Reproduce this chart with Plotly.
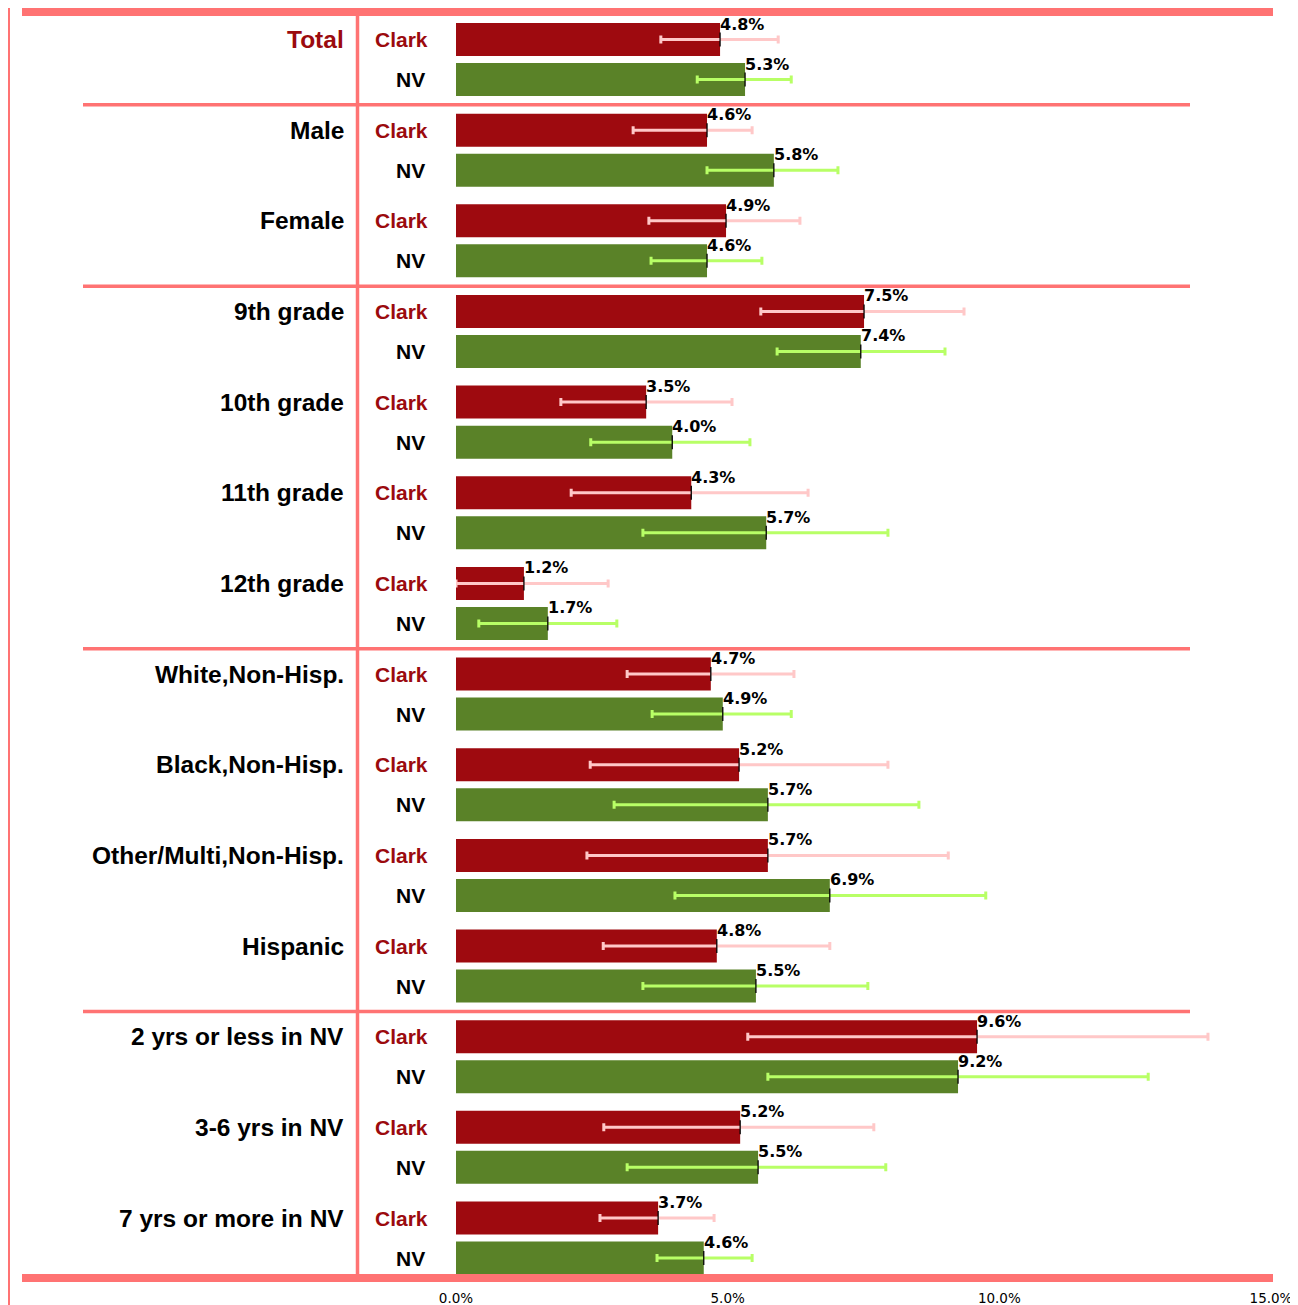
import plotly.graph_objects as go

# ---------------- data ----------------
groups = ["Total", "Male", "Female", "9th grade", "10th grade", "11th grade", "12th grade",
          "White,Non-Hisp.", "Black,Non-Hisp.", "Other/Multi,Non-Hisp.", "Hispanic",
          "2 yrs or less in NV", "3-6 yrs in NV", "7 yrs or more in NV"]

clark_vals = [4.86, 4.62, 4.97, 7.51, 3.50, 4.33, 1.25, 4.69, 5.21, 5.74, 4.80, 9.59, 5.23, 3.72]
clark_lo   = [3.77, 3.26, 3.55, 5.61, 1.93, 2.12, 0.00, 3.15, 2.47, 2.41, 2.71, 5.37, 2.72, 2.65]
clark_hi   = [5.93, 5.45, 6.33, 9.35, 5.08, 6.48, 2.80, 6.22, 7.95, 9.06, 6.88, 13.84, 7.69, 4.75]
clark_txt  = ["4.8%", "4.6%", "4.9%", "7.5%", "3.5%", "4.3%", "1.2%", "4.7%", "5.2%", "5.7%",
              "4.8%", "9.6%", "5.2%", "3.7%"]

nv_vals = [5.32, 5.85, 4.62, 7.45, 3.98, 5.71, 1.69, 4.91, 5.74, 6.88, 5.52, 9.24, 5.56, 4.56]
nv_lo   = [4.44, 4.62, 3.59, 5.91, 2.48, 3.44, 0.42, 3.61, 2.91, 4.03, 3.44, 5.74, 3.15, 3.70]
nv_hi   = [6.17, 7.03, 5.63, 9.00, 5.41, 7.95, 2.96, 6.17, 8.52, 9.75, 7.58, 12.74, 7.91, 5.45]
nv_txt  = ["5.3%", "5.8%", "4.6%", "7.4%", "4.0%", "5.7%", "1.7%", "4.9%", "5.7%", "6.9%",
           "5.5%", "9.2%", "5.5%", "4.6%"]

section_breaks = [0.5, 2.5, 6.5, 10.5]   # between groups
tick_vals = [0, 5, 10, 15]
tick_text = ["0.0%", "5.0%", "10.0%", "15.0%"]

# ---------------- styling ----------------
W, H = 1298, 1305
PAGE_OFF = 8                      # default body margin of the page
PLOT_L, PLOT_R, PLOT_T, PLOT_B = 456, 1271, 12, 1278   # page pixels of the plot area
ML = PLOT_L - PAGE_OFF
MT = PLOT_T - PAGE_OFF
MR = W - (PLOT_R - PAGE_OFF)
MB = H - (PLOT_B - PAGE_OFF)
PW = PLOT_R - PLOT_L
PH = PLOT_B - PLOT_T
RED = "#9E0A0F"
GREEN = "#5A8228"
PINK = "#FFC8C8"
LGREEN = "#B8FF66"
LINE = "#FF7373"
LABEL_RED = "#9B0A0E"
OFF = 0.2207
BARW = 0.364


def px_x(p):
    return (p - PLOT_L) / PW


def px_y(p):
    return (PLOT_B - p) / PH


n = len(groups)
y_clark = [i - OFF for i in range(n)]
y_nv = [i + OFF for i in range(n)]

fig = go.Figure()
fig.add_trace(go.Bar(x=clark_vals, y=y_clark, orientation="h", width=BARW,
                     marker=dict(color=RED, line=dict(width=0)), showlegend=False,
                     hoverinfo="skip"))
fig.add_trace(go.Bar(x=nv_vals, y=y_nv, orientation="h", width=BARW,
                     marker=dict(color=GREEN, line=dict(width=0)), showlegend=False,
                     hoverinfo="skip"))

for vals, lo, hi, ys, col in [(clark_vals, clark_lo, clark_hi, y_clark, PINK),
                               (nv_vals, nv_lo, nv_hi, y_nv, LGREEN)]:
    fig.add_trace(go.Scatter(
        x=vals, y=ys, mode="markers", showlegend=False, hoverinfo="skip",
        marker=dict(symbol="line-ns", size=10, line=dict(color="black", width=1.3)),
        error_x=dict(type="data", symmetric=False,
                     array=[h - v for h, v in zip(hi, vals)],
                     arrayminus=[v - l for v, l in zip(vals, lo)],
                     color=col, thickness=3, width=4)))

annotations = []
for i in range(n):
    for v, yy, t in [(clark_vals[i], y_clark[i], clark_txt[i]), (nv_vals[i], y_nv[i], nv_txt[i])]:
        annotations.append(dict(x=v, y=yy, xref="x", yref="y", text=t, showarrow=False,
                                xanchor="left", yanchor="bottom", xshift=-2, yshift=4,
                                font=dict(family="DejaVu Sans", size=16, color="black",
                                          weight="bold")))
    annotations.append(dict(x=px_x(346), y=y_clark[i], xref="paper", yref="y", text=groups[i],
                            showarrow=False, xanchor="right", yanchor="middle",
                            font=dict(family="Liberation Sans", size=24.5,
                                      color=LABEL_RED if i == 0 else "black", weight="bold")))
    annotations.append(dict(x=px_x(430), y=y_clark[i], xref="paper", yref="y", text="Clark",
                            showarrow=False, xanchor="right", yanchor="middle",
                            font=dict(family="Liberation Sans", size=21, color=LABEL_RED,
                                      weight="bold")))
    annotations.append(dict(x=px_x(427), y=y_nv[i], xref="paper", yref="y", text="NV",
                            showarrow=False, xanchor="right", yanchor="middle",
                            font=dict(family="Liberation Sans", size=21, color="black",
                                      weight="bold")))

shapes = []
# outer left vertical line (at the very left edge of the figure)
shapes.append(dict(type="line", xref="paper", yref="paper", x0=px_x(9), x1=px_x(9),
                   y0=px_y(0), y1=px_y(H + PAGE_OFF), line=dict(color=LINE, width=2)))
# top & bottom thick lines
for p in (PLOT_T, PLOT_B):
    shapes.append(dict(type="line", xref="paper", yref="paper", x0=px_x(22), x1=px_x(1273),
                       y0=px_y(p), y1=px_y(p), line=dict(color=LINE, width=8)))
# section separators
for b in section_breaks:
    shapes.append(dict(type="line", xref="paper", yref="y", x0=px_x(83), x1=px_x(1190),
                       y0=b, y1=b, line=dict(color=LINE, width=3.5)))
# inner vertical divider
shapes.append(dict(type="line", xref="paper", yref="paper", x0=px_x(357.5), x1=px_x(357.5),
                   y0=px_y(PLOT_T), y1=px_y(PLOT_B), line=dict(color=LINE, width=3.5)))

fig.update_layout(
    width=W, height=H,
    margin=dict(l=ML, r=MR, t=MT, b=MB),
    paper_bgcolor="white", plot_bgcolor="white",
    barmode="overlay",
    xaxis=dict(range=[0, 15], tickvals=tick_vals, ticktext=tick_text, showgrid=False,
               zeroline=False, showline=False, ticks="", ticklabelstandoff=10,
               tickfont=dict(family="DejaVu Sans", size=13.5, color="black")),
    yaxis=dict(range=[13.441, -0.524],
               showticklabels=False, showgrid=False, zeroline=False, showline=False),
    annotations=annotations, shapes=shapes,
)

fig.write_html("out.html", config={"displayModeBar": False})
